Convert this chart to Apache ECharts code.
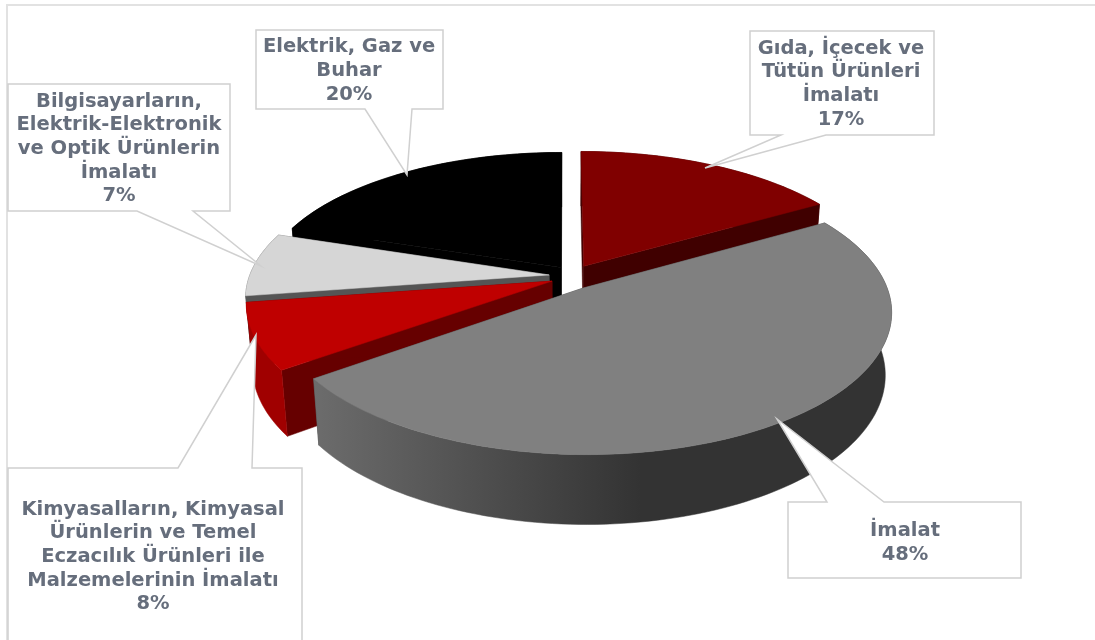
<!DOCTYPE html>
<html><head><meta charset="utf-8">
<style>html,body{margin:0;padding:0;background:#fff}#c{width:1095px;height:640px}</style>
<script src="https://cdn.jsdelivr.net/npm/echarts@6/dist/echarts.min.js"></script>
</head><body><div id="c"></div>
<script>
// Data (clockwise from 12 o'clock)
const categories = [
  "Gıda, İçecek ve\nTütün Ürünleri\nİmalatı",
  "İmalat",
  "Kimyasalların, Kimyasal\nÜrünlerin ve Temel\nEczacılık Ürünleri ile\nMalzemelerinin İmalatı",
  "Bilgisayarların,\nElektrik-Elektronik\nve Optik Ürünlerin\nİmalatı",
  "Elektrik, Gaz ve\nBuhar"
];
const values = [16.6, 48.4, 7.6, 7.4, 20];

// Styling and layout, separate from the data
const drawOrder = [4, 3, 0, 2, 1];
const topColors = ['#800000', '#808080', '#bf0000', '#d6d6d6', '#000000'];
const cutColors = ['#400000', '#404040', '#660000', '#555555', '#000000'];
const rimColors = ['#400000', null, '#a00000', '#555555', '#000000'];
const explode = [[0.063, -0.08], [0.06, 0.08], [-0.043, 0.03], [-0.053, -0.015], [-0.013, -0.07]];
const cam = { X: 565, Y: 277, f: 1680, D: 5.6, tilt: 27 * Math.PI / 180, h: 0.234 };
const callouts = [
  { box: [750, 31, 934, 135], side: 'bottom', base: [781, 826], tip: [705, 168], text: [841, 84] },
  { box: [788, 502, 1021, 578], side: 'top', base: [827, 884], tip: [777, 419], text: [905, 543] },
  { box: [8, 468, 302, 670], side: 'top', base: [178, 252], tip: [256, 335], text: [153, 557] },
  { box: [8, 84, 230, 211], side: 'bottom', base: [137, 193], tip: [261, 266], text: [119, 149] },
  { box: [256, 30, 443, 109], side: 'bottom', base: [365, 412], tip: [407, 175], text: [349, 71] }
];
const frame = [[1095, 5], [7, 5], [7, 640]];

const total = values.reduce((a, b) => a + b, 0);
const cs = Math.cos(cam.tilt), sn = Math.sin(cam.tilt);
function project(x, v, z) {
  const d = cam.D - v * cs - z * sn;
  return [cam.X + cam.f * x / d, cam.Y + cam.f * (v * sn - z * cs) / d];
}
function startFraction(i) {
  let s = 0;
  for (let k = 0; k < i; k++) s += values[k];
  return s / total;
}
function renderSlice(params, api) {
  const i = api.value(0), value = api.value(1);
  const a0 = startFraction(i) * 2 * Math.PI, a1 = a0 + value / total * 2 * Math.PI;
  const [ox, ov] = explode[i];
  const rim = (z) => {
    const pts = [], n = Math.max(8, Math.ceil((a1 - a0) * 40));
    for (let k = 0; k <= n; k++) {
      const a = a0 + (a1 - a0) * k / n;
      pts.push(project(ox + Math.sin(a), ov - Math.cos(a), z));
    }
    return pts;
  };
  const topRim = rim(0), botRim = rim(-cam.h);
  const apexT = project(ox, ov, 0), apexB = project(ox, ov, -cam.h);
  const poly = (points, fill) => ({
    type: 'polygon', shape: { points }, silent: true,
    style: { fill, stroke: fill, lineWidth: 0.5 }
  });
  let rimFill = rimColors[i];
  if (!rimFill) {
    rimFill = { type: 'linear', x: 315, y: 0, x2: 640, y2: 0, global: true,
      colorStops: [{ offset: 0, color: '#6c6c6c' }, { offset: 1, color: '#333333' }] };
  }
  return {
    type: 'group',
    children: [
      poly([apexT, topRim[0], botRim[0], apexB], cutColors[i]),
      poly([apexT, topRim[topRim.length - 1], botRim[botRim.length - 1], apexB], cutColors[i]),
      poly(topRim.concat(botRim.slice().reverse()), rimFill),
      poly([apexT].concat(topRim), topColors[i])
    ]
  };
}
function renderCallout(params, api) {
  const i = api.value(0), value = api.value(1);
  const c = callouts[i], [x0, y0, x1, y1] = c.box, [a, b] = c.base;
  const points = c.side === 'bottom'
    ? [[x0, y0], [x1, y0], [x1, y1], [b, y1], c.tip, [a, y1], [x0, y1]]
    : [[x0, y0], [a, y0], c.tip, [b, y0], [x1, y0], [x1, y1], [x0, y1]];
  return {
    type: 'group',
    children: [
      { type: 'polygon', shape: { points }, silent: true,
        style: { fill: '#ffffff', stroke: '#d0d0d0', lineWidth: 1.5, lineJoin: 'miter' } },
      { type: 'text', silent: true, x: c.text[0], y: c.text[1],
        style: {
          text: categories[i] + '\n' + Math.round(value / total * 100) + '%',
          fontFamily: '"DejaVu Sans", sans-serif', fontWeight: 'bold', fontSize: 19.5,
          lineHeight: 23.7, fill: '#666e7c', align: 'center', verticalAlign: 'middle'
        } }
    ]
  };
}
const chart = echarts.init(document.getElementById('c'), null, { renderer: 'canvas' });
chart.setOption({
  animation: false,
  backgroundColor: '#ffffff',
  graphic: [{ type: 'polyline', silent: true, shape: { points: frame },
    style: { stroke: '#e2e2e2', lineWidth: 2, fill: null } }],
  xAxis: { show: false }, yAxis: { show: false },
  grid: { left: 0, right: 0, top: 0, bottom: 0 },
  series: [
    { type: 'custom', coordinateSystem: 'none', silent: true, z: 2, renderItem: renderSlice,
      data: drawOrder.map(i => [i, values[i]]) },
    { type: 'custom', coordinateSystem: 'none', silent: true, z: 3, renderItem: renderCallout,
      data: values.map((v, i) => [i, v]) }
  ]
});
</script></body></html>
